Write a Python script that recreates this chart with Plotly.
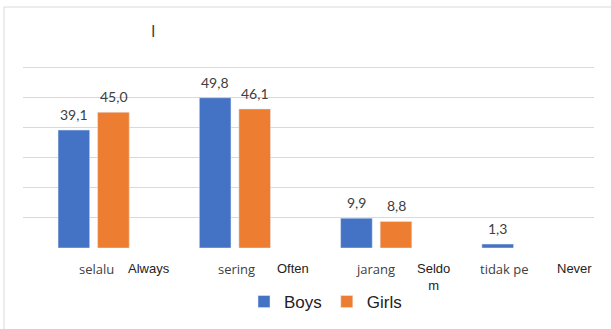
import plotly.graph_objects as go

# ---- data ----
categories = ["selalu", "sering", "jarang", "tidak pernah"]
boys = [39.1, 49.8, 9.9, 1.3]
girls = [45.0, 46.1, 8.8, None]
label_id = ["selalu", "sering", "jarang", "tidak pe"]
label_en = ["Always", "Often", "Seldo<br>m", "Never"]

BLUE = "#4472C4"
ORANGE = "#ED7D31"
GRID = "#d9d9d9"

W, H = 611, 329
Y_MAX = 61
ML, MR, MT, MB = 23, 17, 64, 81
PLOT_H = H - MT - MB
PLOT_W = W - ML - MR


def py(pixel_y):
    """pixel row -> paper y"""
    return (H - MB - pixel_y) / PLOT_H


def px(pixel_x):
    """pixel column -> paper x"""
    return (pixel_x - ML) / PLOT_W


def fmt(v):
    return f"{v:.1f}".replace(".", ",")


fig = go.Figure()
fig.add_trace(go.Bar(name="Boys", x=categories, y=boys, marker_color=BLUE))
fig.add_trace(go.Bar(name="Girls", x=categories, y=girls, marker_color=ORANGE))

annotations = []
# value labels above bars
for series, shift in ((boys, -20), (girls, 20)):
    for cat, v in zip(categories, series):
        if v is None:
            continue
        annotations.append(dict(
            x=cat, y=v, xref="x", yref="y", text=fmt(v), showarrow=False,
            xshift=shift, yanchor="bottom", yshift=5,
            font=dict(family="Lato", size=14, color="#404040"),
        ))

# category captions (Indonesian + English)
id_shift = [-17, -19, -22, -40]
en_shift = [55, 58, 57, 57]
for cat, t, s in zip(categories, label_id, id_shift):
    annotations.append(dict(
        x=cat, y=py(269), xref="x", yref="paper", text=t, showarrow=False,
        xanchor="left", yanchor="middle", xshift=s,
        font=dict(family="Open Sans", size=13, color="#404040"),
    ))
for cat, t, s in zip(categories, label_en, en_shift):
    multi = "<br>" in t
    annotations.append(dict(
        x=cat, y=py(259) if multi else py(268), xref="x", yref="paper",
        text=t, showarrow=False, xanchor="center",
        yanchor="top" if multi else "middle", xshift=s,
        font=dict(family="Liberation Sans", size=13, color="#222222"),
    ))

# title placeholder glyph
annotations.append(dict(
    x=px(153), y=py(32), xref="paper", yref="paper", text="I",
    showarrow=False, xanchor="center", yanchor="middle",
    font=dict(family="Liberation Sans", size=16, color="#444444"),
))

fig.update_layout(
    width=W, height=H,
    margin=dict(l=ML, r=MR, t=MT, b=MB, pad=0, autoexpand=False),
    paper_bgcolor="white", plot_bgcolor="white",
    barmode="group", bargap=0.44, bargroupgap=0.2,
    xaxis=dict(type="category", showticklabels=False, showgrid=False,
               zeroline=False, showline=False, ticks=""),
    yaxis=dict(range=[0, Y_MAX], dtick=10, showticklabels=False,
               showgrid=True, gridcolor=GRID, gridwidth=1,
               zeroline=False, showline=False, ticks=""),
    legend=dict(orientation="h", x=px(244), xanchor="left",
                y=py(302), yanchor="middle", itemwidth=30,
                font=dict(family="Liberation Sans", size=17, color="#222222"),
                itemclick=False, bgcolor="rgba(0,0,0,0)"),
    annotations=annotations,
    shapes=[dict(type="rect", xref="paper", yref="paper",
                 x0=px(4), x1=px(W + 30), y0=py(H + 30), y1=py(7),
                 line=dict(color=GRID, width=1), layer="below")],
    showlegend=True,
)

fig.write_html("out.html")
